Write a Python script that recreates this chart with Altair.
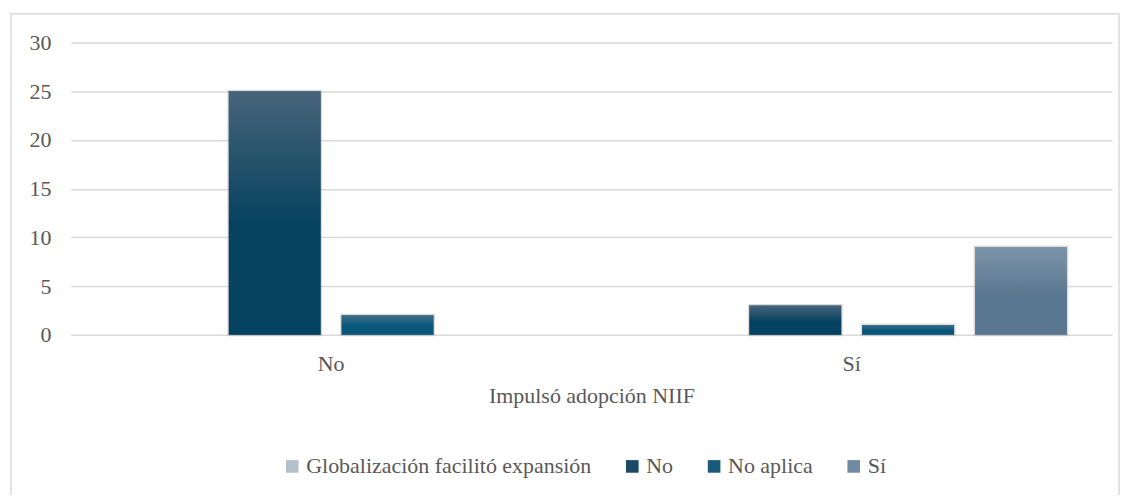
import altair as alt
import pandas as pd

groups = ["No", "Sí"]
series = ["Globalización facilitó expansión", "No", "No aplica", "Sí"]
vals_no = [25, 2, 0]      # No, No aplica, Sí  in group "No"
vals_si = [3, 1, 9]       # No, No aplica, Sí  in group "Sí"
legend_colors = ["#b3bfca", "#1b4a67", "#1c5a7b", "#6f8aa3"]
grad_top = {"No": "#476479", "No aplica": "#3f6d8a", "Sí": "#7c94a9"}
grad_bot = {"No": "#05425f", "No aplica": "#08577a", "Sí": "#5a7791"}

rows = []
for g, vals in zip(groups, [vals_no, vals_si]):
    for s, v in zip(series[1:], vals):
        rows.append({"group": g, "series": s, "value": v})
df = pd.DataFrame(rows)

FONT = "Liberation Serif"
FS = 22
W, H = 1044, 293

x_enc = alt.X("group:N", sort=groups, title="Impulsó adopción NIIF",
              scale=alt.Scale(paddingInner=0, paddingOuter=0),
              axis=alt.Axis(labelAngle=0, labelPadding=19, titlePadding=11,
                            ticks=False, domain=False))
xo_enc = alt.XOffset("series:N", sort=series,
                     scale=alt.Scale(domain=series, paddingInner=0.186, paddingOuter=0.40))
y_enc = alt.Y("value:Q", title=None,
              scale=alt.Scale(domain=[0, 30]),
              axis=alt.Axis(values=[0, 5, 10, 15, 20, 25, 30], ticks=False, domain=False,
                            labelPadding=20, gridColor="#d9d9d9", gridWidth=1.5))

frame = alt.Chart(pd.DataFrame({"a": [0]})).mark_rect(
    fill="transparent", stroke="#d9d9d9", strokeWidth=1.5, clip=False
).encode(x=alt.value(-60), x2=alt.value(1051), y=alt.value(-29), y2=alt.value(470))

base = alt.Chart(df).transform_filter("datum.value > 0").mark_bar(
    stroke="#9a9a9a", strokeOpacity=0.35, strokeWidth=3
).encode(
    x=x_enc, xOffset=xo_enc, y=y_enc,
    color=alt.Color("series:N", sort=series,
                    scale=alt.Scale(domain=series, range=legend_colors),
                    legend=alt.Legend(title=None, orient="none", direction="horizontal",
                                      legendX=211, legendY=414, symbolType="square",
                                      symbolSize=160, symbolStrokeWidth=0,
                                      labelFontSize=FS, labelFont=FONT, labelColor="#595959",
                                      labelOffset=3, columnPadding=30, labelLimit=400))
)

layers = [frame, base]
for s in series[1:]:
    grad = alt.LinearGradient(
        gradient="linear", x1=0, x2=0, y1=0, y2=1,
        stops=[alt.GradientStop(color=grad_top[s], offset=0),
               alt.GradientStop(color=grad_bot[s], offset=0.55),
               alt.GradientStop(color=grad_bot[s], offset=1)])
    layers.append(
        alt.Chart(df).transform_filter(f"datum.value > 0 && datum.series == '{s}'")
        .mark_bar(fill=grad)
        .encode(x=x_enc, xOffset=xo_enc, y=y_enc)
    )

chart = alt.layer(*layers).properties(
    width=W, height=H,
    autosize=alt.AutoSizeParams(type="none"),
    padding={"left": 63, "top": 34, "right": 10, "bottom": 160},
).configure_view(stroke=None).configure_axis(
    labelFont=FONT, titleFont=FONT, labelFontSize=FS, titleFontSize=FS,
    labelColor="#595959", titleColor="#595959", titleFontWeight="normal"
).configure_axisX(grid=False)

chart.save("out.html", embed_options={"renderer": "svg", "actions": False})
